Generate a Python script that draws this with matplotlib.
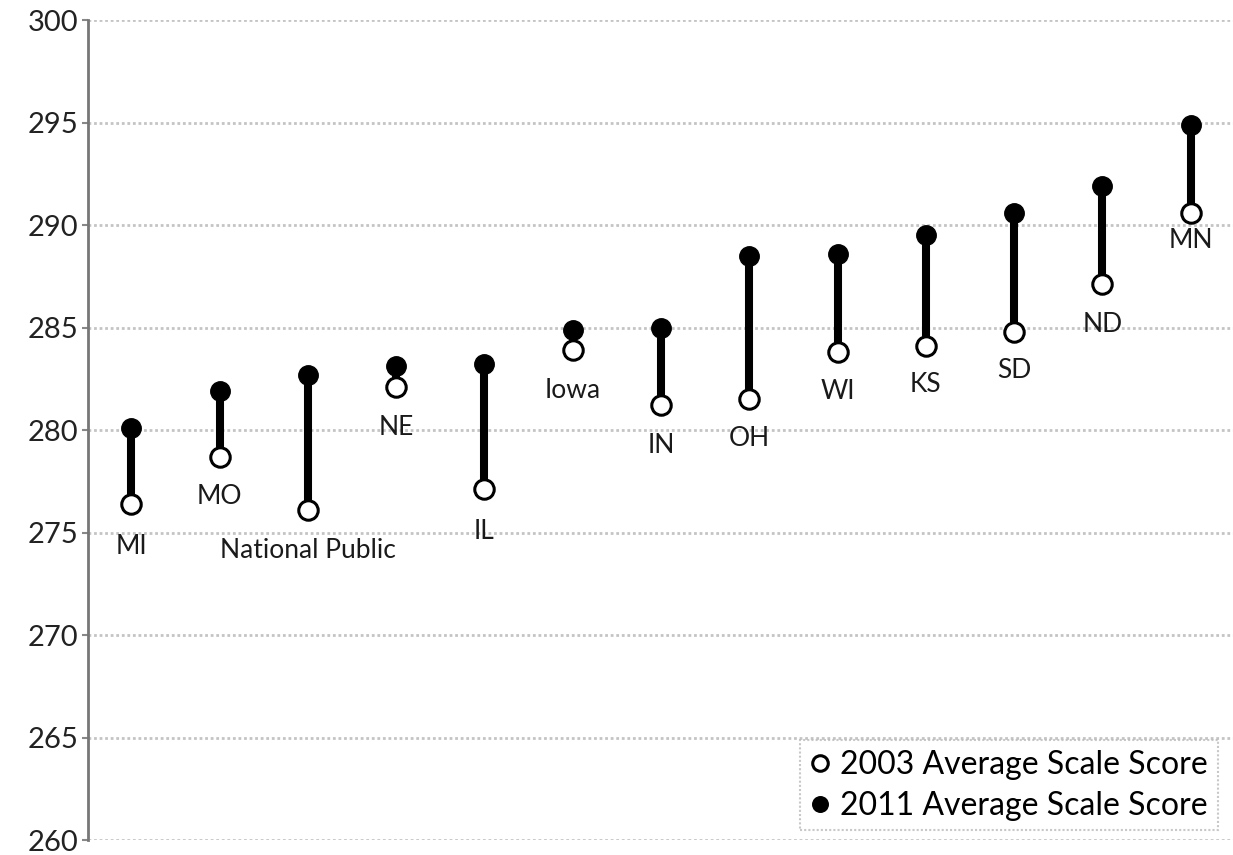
import matplotlib
matplotlib.use("Agg")
import matplotlib.pyplot as plt
import numpy as np

# valeurs
states = ["MI", "MO", "National Public", "NE", "IL", "Iowa", "IN", "OH", "WI", "KS", "SD", "ND", "MN"]
score_2003 = [276.4, 278.7, 276.1, 282.1, 277.1, 283.9, 281.2, 281.5, 283.8, 284.1, 284.8, 287.1, 290.6]
score_2011 = [280.1, 281.9, 282.7, 283.1, 283.2, 284.9, 285.0, 288.5, 288.6, 289.5, 290.6, 291.9, 294.9]
label_offsets = [-31, -29, -29, -29, -30, -29, -29, -28, -28, -28, -28, -29, -20]
y_ticks = [260, 265, 270, 275, 280, 285, 290, 295, 300]

plt.rcParams["font.family"] = ["Lato", "DejaVu Sans"]

fig = plt.figure(figsize=(12.33, 8.55), dpi=100)
ax = fig.add_axes([0.0714, 0.0175, 0.9286, 0.9591])

x = np.arange(len(states))

ax.vlines(x, score_2003, score_2011, color="black", linewidth=5.8, zorder=2)
ax.plot(x, score_2003, "o", markersize=14, markerfacecolor="white",
        markeredgecolor="black", markeredgewidth=2.2, linestyle="none",
        label="2003 Average Scale Score", zorder=3)
ax.plot(x, score_2011, "o", markersize=14, color="black", linestyle="none",
        label="2011 Average Scale Score", zorder=3)

for xi, name, y0, off in zip(x, states, score_2003, label_offsets):
    ax.annotate(name, (xi, y0), xytext=(0, off), textcoords="offset points",
                ha="center", va="center", fontsize=19, color="#1a1a1a")

ax.set_xlim(-0.49, 12.48)
ax.set_ylim(260, 300)
ax.set_yticks(y_ticks)
ax.set_xticks([])
ax.tick_params(axis="y", labelsize=21, length=4, width=1.5, color="#888888",
               labelcolor="#222222", pad=3)

ax.grid(axis="y", color="#c4c4c4", linestyle=(0, (1, 1)), linewidth=2)
ax.set_axisbelow(True)
for side in ["top", "right", "bottom"]:
    ax.spines[side].set_visible(False)
ax.spines["left"].set_color("#777777")
ax.spines["left"].set_linewidth(2)

leg = ax.legend(loc="lower right", fontsize=23, frameon=True, fancybox=False,
                handletextpad=0.35, handlelength=0.6, markerscale=0.8,
                borderpad=0.3, labelspacing=0.35, borderaxespad=0.3,
                bbox_to_anchor=(0.995, 0.0))
leg.get_frame().set_edgecolor("#bbbbbb")
leg.get_frame().set_linestyle((0, (1, 1)))
leg.get_frame().set_linewidth(1.5)

fig.savefig("out.png", dpi=100)
